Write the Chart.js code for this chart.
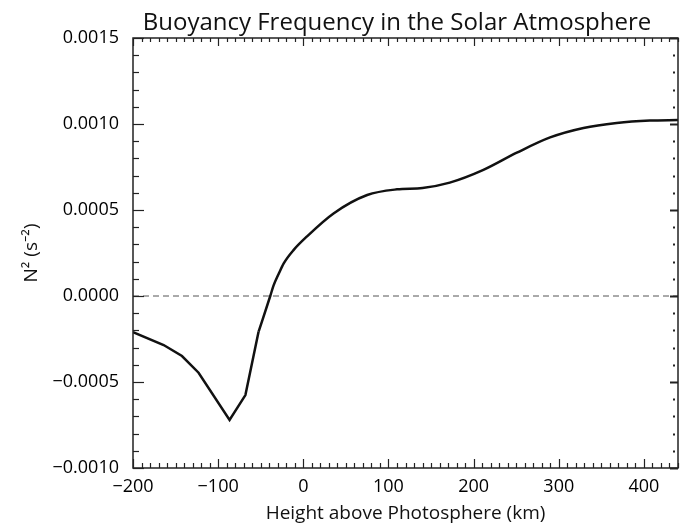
<!DOCTYPE html>
<html><head><meta charset="utf-8">
<script src="https://cdn.jsdelivr.net/npm/chart.js@4/dist/chart.umd.min.js"></script>
<style>html,body{margin:0;padding:0;background:#fff;}#wrap{width:683px;height:529px;}</style>
</head><body><div id="wrap"><canvas id="c" width="683" height="529"></canvas></div>
<script>
// Data
const LOWER_HEIGHTS = [-200, -164, -142.5, -123, -86.6, -68, -52.5];
const LOWER_N2 = [-0.00021, -0.000285, -0.000349, -0.000446, -0.000721, -0.000576, -0.000207];
const UPPER_HEIGHTS = [-52.5, -38.8, -35, -29, -23, -11.5, 4, 35.5, 75, 110, 140, 172, 211.5, 250.7, 289.8, 329, 368, 407, 440];
const UPPER_N2 = [-0.000207, 0.0, 0.00006, 0.000128, 0.00019, 0.000267, 0.000345, 0.00048, 0.000587, 0.00062, 0.000628, 0.000659, 0.000733, 0.000833, 0.000922, 0.000977, 0.001006, 0.00102, 0.001023];
const ZERO_LINE_X = [-200, 440];
const ZERO_LINE_Y = [0, 0];
const X_TICKS = [-200, -100, 0, 100, 200, 300, 400];
const Y_TICKS = [-0.0010, -0.0005, 0.0000, 0.0005, 0.0010, 0.0015];
const TITLE = 'Buoyancy Frequency in the Solar Atmosphere';
const X_LABEL = 'Height above Photosphere (km)';
const Y_LABEL = 'N\u00B2 (s\u207B\u00B2)';

const pts = (xs, ys) => xs.map((x, i) => ({x: x, y: ys[i]}));
const FONT = "'Open Sans', 'Noto Sans', sans-serif";

const frame = {
  id: 'frame',
  afterDatasetsDraw(chart) {
    const {ctx, chartArea: a, scales} = chart;
    const xs = scales.x, ys = scales.y;
    ctx.save();
    ctx.strokeStyle = '#222';
    ctx.lineWidth = 1.5;
    ctx.strokeRect(a.left, a.top, a.right - a.left, a.bottom - a.top);
    ctx.lineWidth = 1.2;
    for (let v = -200; v <= 440; v += 10) {
      const px = Math.round(xs.getPixelForValue(v)) + 0.5;
      const major = X_TICKS.includes(v);
      ctx.beginPath();
      ctx.moveTo(px, a.bottom); ctx.lineTo(px, a.bottom - (major ? 9 : 5));
      ctx.moveTo(px, a.top); ctx.lineTo(px, a.top + (major ? 8 : 4));
      ctx.stroke();
    }
    for (let k = -10; k <= 15; k++) {
      const v = k * 0.0001;
      const py = Math.round(ys.getPixelForValue(v)) + 0.5;
      const major = (k % 5 === 0);
      ctx.lineWidth = 1.2;
      ctx.beginPath();
      ctx.moveTo(a.left, py); ctx.lineTo(a.left + (major ? 11 : 6), py);
      ctx.stroke();
      ctx.lineWidth = 2;
      ctx.beginPath();
      if (major) { ctx.moveTo(a.right, py); ctx.lineTo(a.right - 8, py); }
      else { ctx.moveTo(a.right - 3, py); ctx.lineTo(a.right - 5, py); }
      ctx.stroke();
    }
    ctx.restore();
  },
  afterDraw(chart) {
    const {ctx} = chart;
    ctx.save();
    ctx.fillStyle = '#111';
    ctx.font = '24px ' + FONT;
    ctx.textAlign = 'center';
    ctx.textBaseline = 'alphabetic';
    ctx.fillText(TITLE, 397, 30);
    ctx.restore();
  }
};

new Chart(document.getElementById('c'), {
  type: 'line',
  data: {
    datasets: [
      {data: pts(ZERO_LINE_X, ZERO_LINE_Y), borderColor: '#555', borderWidth: 1, borderDash: [6, 4], pointRadius: 0, tension: 0},
      {data: pts(LOWER_HEIGHTS, LOWER_N2), borderColor: '#111', borderWidth: 2.5, pointRadius: 0, tension: 0},
      {data: pts(UPPER_HEIGHTS, UPPER_N2), borderColor: '#111', borderWidth: 2.5, pointRadius: 0, cubicInterpolationMode: 'monotone'}
    ]
  },
  options: {
    responsive: false,
    animation: false,
    events: [],
    layout: {padding: {top: 38, right: 5, left: 16, bottom: 0}},
    plugins: {legend: {display: false}, tooltip: {enabled: false}, title: {display: false}},
    scales: {
      x: {
        type: 'linear', min: -200, max: 440,
        grid: {display: false, drawTicks: false},
        border: {display: false},
        afterBuildTicks: s => { s.ticks = X_TICKS.map(v => ({value: v})); },
        afterFit: s => { s.height = 61; },
        ticks: {padding: 8, color: '#000', font: {family: FONT, size: 18}, maxRotation: 0,
          callback: v => (v < 0 ? '\u2212' + Math.abs(v) : '' + v)},
        title: {display: true, text: X_LABEL, color: '#111', font: {family: FONT, size: 19}, padding: {top: -7}}
      },
      y: {
        type: 'linear', min: -0.0010, max: 0.0015,
        grid: {display: false, drawTicks: false},
        border: {display: false},
        afterBuildTicks: s => { s.ticks = Y_TICKS.map(v => ({value: v})); },
        afterFit: s => { s.width = 117; },
        ticks: {padding: 14, color: '#000', font: {family: FONT, size: 18},
          callback: v => (v < 0 ? '\u2212' + Math.abs(v).toFixed(4) : Math.abs(v).toFixed(4))},
        title: {display: true, text: Y_LABEL, color: '#111', font: {family: FONT, size: 19}, padding: {bottom: 4}}
      }
    }
  },
  plugins: [frame]
});
</script>
</body></html>
